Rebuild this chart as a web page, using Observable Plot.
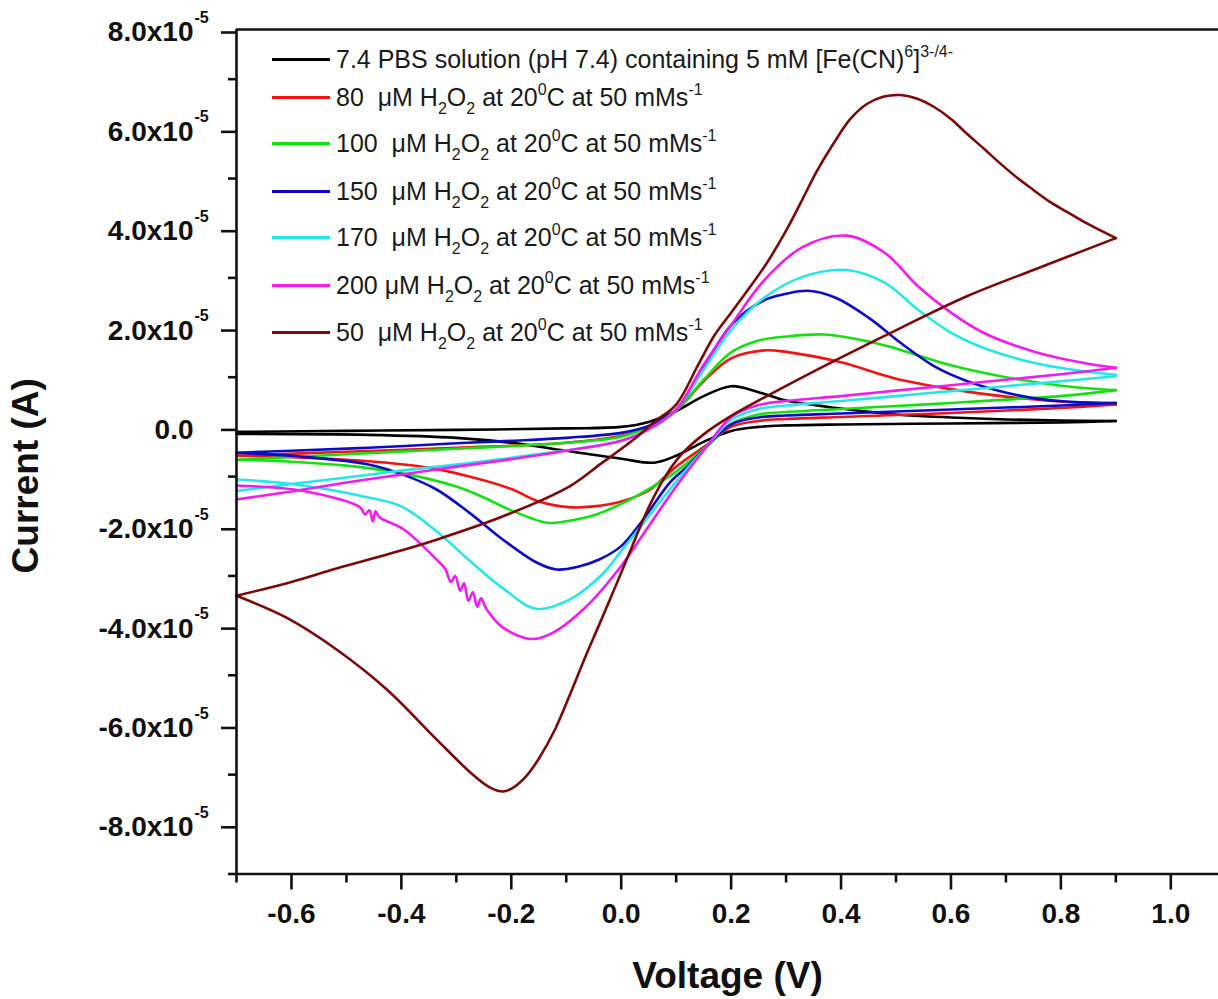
<!DOCTYPE html>
<html>
<head>
<meta charset="utf-8">
<script src="https://cdn.jsdelivr.net/npm/d3@7"></script>
<script src="https://cdn.jsdelivr.net/npm/@observablehq/plot@0.6"></script>
<style>
  html, body { margin: 0; padding: 0; background: #fff; }
  #chart { position: relative; width: 1218px; height: 999px; overflow: hidden; }
  #chart svg { display: block; }
  .legend { position: absolute; left: 0; top: 0; font-family: "Liberation Sans", Arial, sans-serif; font-size: 25px; color: #1a1a1a; }
  .legend .row { position: absolute; left: 272px; height: 40px; display: flex; align-items: center; white-space: pre; }
  .legend .sw { width: 58px; height: 3px; margin-right: 6px; flex: none; }
  .legend sub { font-size: 16px; vertical-align: -8px; line-height: 0; }
  .legend sup { font-size: 16px; vertical-align: 11px; line-height: 0; }
</style>
</head>
<body>
<div id="chart"></div>
<script>
// Cyclic voltammograms: [potential (V), current (x1e-5 A)]
// "Fwd" = anodic sweep (-0.7 V -> 0.9 V), "Rev" = cathodic sweep (0.9 V -> -0.7 V)

const seriesKeys = ["pbs", "h80", "h100", "h150", "h170", "h200", "h50"];

const seriesLabels = [
  "7.4 PBS solution (pH 7.4) containing 5 mM [Fe(CN)<sup>6</sup>]<sup>3-/4-</sup>",
  "80  \u03bcM H<sub>2</sub>O<sub>2</sub> at 20<sup>0</sup>C at 50 mMs<sup>-1</sup>",
  "100  \u03bcM H<sub>2</sub>O<sub>2</sub> at 20<sup>0</sup>C at 50 mMs<sup>-1</sup>",
  "150  \u03bcM H<sub>2</sub>O<sub>2</sub> at 20<sup>0</sup>C at 50 mMs<sup>-1</sup>",
  "170  \u03bcM H<sub>2</sub>O<sub>2</sub> at 20<sup>0</sup>C at 50 mMs<sup>-1</sup>",
  "200 \u03bcM H<sub>2</sub>O<sub>2</sub> at 20<sup>0</sup>C at 50 mMs<sup>-1</sup>",
  "50  \u03bcM H<sub>2</sub>O<sub>2</sub> at 20<sup>0</sup>C at 50 mMs<sup>-1</sup>"
];

const seriesColors = ["#000000", "#f01414", "#14e014", "#0c0cc8", "#28e6e6", "#f01cf0", "#7c0808"];

const pbsFwd = [[-0.7,-0.10],[-0.5,-0.08],[-0.3,-0.06],[-0.1,-0.03],[0.0,0.0],[0.05,0.1],[0.1,0.32],[0.15,0.62],[0.2,0.82],[0.25,0.70],[0.3,0.53],[0.4,0.37],[0.5,0.25],[0.6,0.19],[0.7,0.15],[0.8,0.13],[0.9,0.12]];
const pbsRev = [[0.9,0.12],[0.8,0.09],[0.6,0.07],[0.4,0.05],[0.3,0.03],[0.25,0.0],[0.2,-0.08],[0.15,-0.3],[0.1,-0.58],[0.06,-0.72],[0.0,-0.64],[-0.1,-0.48],[-0.2,-0.32],[-0.3,-0.22],[-0.46,-0.16],[-0.7,-0.14]];

const h80Fwd = [[-0.7,-0.58],[-0.5,-0.50],[-0.3,-0.42],[-0.1,-0.32],[0.0,-0.18],[0.05,0.0],[0.1,0.33],[0.15,0.92],[0.2,1.38],[0.26,1.54],[0.3,1.51],[0.4,1.30],[0.5,0.97],[0.6,0.76],[0.7,0.61],[0.8,0.51],[0.9,0.45]];
const h80Rev = [[0.9,0.45],[0.8,0.38],[0.7,0.33],[0.6,0.28],[0.5,0.24],[0.4,0.2],[0.3,0.16],[0.25,0.12],[0.2,0.0],[0.156,-0.36],[0.1,-0.8],[0.05,-1.28],[0.0,-1.5],[-0.05,-1.6],[-0.09,-1.62],[-0.15,-1.5],[-0.2,-1.25],[-0.28,-0.99],[-0.35,-0.82],[-0.46,-0.69],[-0.6,-0.61],[-0.7,-0.58]];

const h100Fwd = [[-0.7,-0.66],[-0.5,-0.55],[-0.3,-0.44],[-0.1,-0.32],[0.0,-0.2],[0.05,0.0],[0.1,0.33],[0.15,0.95],[0.2,1.5],[0.25,1.74],[0.3,1.82],[0.37,1.86],[0.45,1.72],[0.5,1.58],[0.6,1.24],[0.7,1.0],[0.8,0.83],[0.9,0.74]];
const h100Rev = [[0.9,0.74],[0.8,0.62],[0.7,0.55],[0.6,0.48],[0.5,0.42],[0.4,0.36],[0.3,0.3],[0.25,0.25],[0.2,0.06],[0.156,-0.39],[0.1,-0.9],[0.05,-1.25],[0.0,-1.55],[-0.05,-1.78],[-0.1,-1.9],[-0.135,-1.93],[-0.2,-1.68],[-0.25,-1.42],[-0.3,-1.2],[-0.4,-0.93],[-0.5,-0.78],[-0.6,-0.7],[-0.7,-0.66]];

const h150Fwd = [[-0.7,-0.52],[-0.6,-0.48],[-0.46,-0.42],[-0.3,-0.33],[-0.2,-0.28],[-0.1,-0.22],[0.0,-0.12],[0.05,0.02],[0.1,0.35],[0.15,1.2],[0.2,2.05],[0.26,2.55],[0.3,2.68],[0.34,2.74],[0.39,2.6],[0.45,2.2],[0.51,1.68],[0.57,1.22],[0.63,0.92],[0.69,0.72],[0.75,0.58],[0.81,0.51],[0.9,0.48]];
const h150Rev = [[0.9,0.48],[0.8,0.43],[0.7,0.39],[0.6,0.35],[0.5,0.31],[0.4,0.27],[0.3,0.23],[0.25,0.19],[0.2,0.05],[0.156,-0.39],[0.12,-0.8],[0.09,-1.1],[0.035,-1.94],[0.0,-2.4],[-0.04,-2.67],[-0.08,-2.82],[-0.118,-2.87],[-0.154,-2.73],[-0.215,-2.27],[-0.276,-1.73],[-0.336,-1.26],[-0.397,-0.96],[-0.458,-0.76],[-0.58,-0.6],[-0.7,-0.52]];

const h170Fwd = [[-0.7,-1.29],[-0.6,-1.15],[-0.5,-1.02],[-0.4,-0.88],[-0.3,-0.76],[-0.2,-0.62],[-0.1,-0.47],[0.0,-0.28],[0.05,-0.05],[0.1,0.35],[0.15,1.15],[0.2,1.95],[0.26,2.6],[0.33,3.02],[0.41,3.16],[0.48,2.9],[0.54,2.36],[0.6,1.9],[0.66,1.59],[0.75,1.29],[0.84,1.12],[0.9,1.05]];
const h170Rev = [[0.9,1.02],[0.8,0.92],[0.7,0.82],[0.6,0.72],[0.5,0.62],[0.4,0.52],[0.3,0.43],[0.25,0.36],[0.2,0.14],[0.156,-0.39],[0.1,-1.1],[0.05,-1.8],[0.0,-2.5],[-0.033,-2.95],[-0.093,-3.47],[-0.155,-3.66],[-0.215,-3.25],[-0.275,-2.7],[-0.336,-2.1],[-0.4,-1.6],[-0.46,-1.42],[-0.6,-1.15],[-0.7,-1.06]];

const h200Fwd = [[-0.7,-1.46],[-0.6,-1.3],[-0.5,-1.12],[-0.4,-0.96],[-0.3,-0.8],[-0.2,-0.65],[-0.1,-0.48],[0.0,-0.28],[0.05,-0.05],[0.1,0.35],[0.15,1.25],[0.2,2.05],[0.26,2.95],[0.33,3.62],[0.41,3.85],[0.48,3.5],[0.54,2.83],[0.6,2.3],[0.66,1.89],[0.75,1.52],[0.84,1.29],[0.9,1.19]];
const h200Rev = [[0.9,1.19],[0.8,1.06],[0.7,0.95],[0.6,0.84],[0.5,0.73],[0.4,0.62],[0.3,0.52],[0.25,0.44],[0.2,0.2],[0.156,-0.39],[0.1,-1.2],[0.05,-2.0],[0.0,-2.8],[-0.063,-3.61],[-0.124,-4.14],[-0.163,-4.27],[-0.215,-4.04],[-0.245,-3.67],[-0.255,-3.45],[-0.262,-3.62],[-0.27,-3.33],[-0.278,-3.5],[-0.286,-3.15],[-0.293,-3.3],[-0.302,-3.0],[-0.31,-3.12],[-0.32,-2.86],[-0.336,-2.67],[-0.396,-2.06],[-0.44,-1.82],[-0.447,-1.7],[-0.452,-1.9],[-0.458,-1.68],[-0.466,-1.76],[-0.475,-1.62],[-0.578,-1.29],[-0.7,-1.18]];

const h50Fwd = [[-0.7,-3.40],[-0.6,-3.12],[-0.518,-2.85],[-0.42,-2.55],[-0.336,-2.27],[-0.215,-1.80],[-0.093,-1.19],[-0.038,-0.75],[0.022,-0.26],[0.06,0.1],[0.1,0.45],[0.14,1.25],[0.17,1.85],[0.2,2.3],[0.23,2.75],[0.265,3.3],[0.3,3.95],[0.326,4.5],[0.356,5.15],[0.386,5.7],[0.417,6.2],[0.447,6.5],[0.478,6.65],[0.508,6.68],[0.54,6.6],[0.568,6.45],[0.6,6.2],[0.629,5.9],[0.66,5.6],[0.69,5.3],[0.72,5.02],[0.75,4.77],[0.78,4.53],[0.811,4.33],[0.85,4.08],[0.9,3.80]];
const h50Rev = [[0.9,3.80],[0.811,3.42],[0.75,3.16],[0.629,2.63],[0.508,1.99],[0.386,1.32],[0.265,0.62],[0.2,0.22],[0.15,-0.15],[0.11,-0.55],[0.08,-1.0],[0.05,-1.62],[0.02,-2.4],[-0.01,-3.2],[-0.04,-3.98],[-0.065,-4.62],[-0.09,-5.3],[-0.12,-6.08],[-0.15,-6.68],[-0.172,-7.02],[-0.195,-7.25],[-0.215,-7.34],[-0.24,-7.25],[-0.275,-6.95],[-0.336,-6.29],[-0.427,-5.28],[-0.518,-4.48],[-0.609,-3.84],[-0.7,-3.40]];

const sweeps = {
  pbs: [pbsFwd, pbsRev], h80: [h80Fwd, h80Rev], h100: [h100Fwd, h100Rev],
  h150: [h150Fwd, h150Rev], h170: [h170Fwd, h170Rev], h200: [h200Fwd, h200Rev], h50: [h50Fwd, h50Rev]
};

// Axis tick values
const xMajorTicks = [-0.6, -0.4, -0.2, 0.0, 0.2, 0.4, 0.6, 0.8, 1.0];
const xMinorTicks = [-0.7, -0.5, -0.3, -0.1, 0.1, 0.3, 0.5, 0.7, 0.9];
const yMajorTicks = [-8e-5, -6e-5, -4e-5, -2e-5, 0, 2e-5, 4e-5, 6e-5, 8e-5];
const yMinorTicks = [-9e-5, -7e-5, -5e-5, -3e-5, -1e-5, 1e-5, 3e-5, 5e-5, 7e-5];

// One row per sample; each sweep is its own path so the turning points stay sharp
const rows = [];
for (const key of seriesKeys) {
  const [fwd, rev] = sweeps[key];
  for (const [v, i] of fwd) rows.push({series: key, sweep: key + "-fwd", v, i: i * 1e-5});
  for (const [v, i] of rev) rows.push({series: key, sweep: key + "-rev", v, i: i * 1e-5});
}

const fmtY = (d) => d === 0 ? "0.0" : (d < 0 ? "-" : "") + (Math.abs(d) / 1e-5).toFixed(1) + "x10";
const fmtX = (d) => (Math.abs(d) < 1e-9 ? 0 : d).toFixed(1);

const font = "'Liberation Sans', Arial, sans-serif";

const plot = Plot.plot({
  width: 1218,
  height: 999,
  marginLeft: 236,
  marginRight: 0,
  marginTop: 29,
  marginBottom: 125.5,
  style: {fontFamily: font, background: "#fff", color: "#111"},
  x: {domain: [-0.7, 1.0868]},
  y: {domain: [-9e-5, 8e-5]},
  color: {domain: seriesKeys, range: seriesColors},
  marks: [
    Plot.line(rows, {x: "v", y: "i", z: "sweep", stroke: "series", strokeWidth: 2.6, curve: "catmull-rom"}),
    // frame: left, bottom and top edges
    Plot.ruleX([-0.7], {stroke: "#111", strokeWidth: 2.6}),
    Plot.ruleY([-9e-5], {stroke: "#111", strokeWidth: 2.6}),
    Plot.ruleY([8e-5], {stroke: "#111", strokeWidth: 2.6}),
    // x axis
    Plot.axisX({ticks: xMajorTicks, tickSize: 16, tickPadding: 13.5, tickFormat: fmtX, fontSize: 28, fontWeight: "bold", strokeWidth: 2.6, label: null}),
    Plot.axisX({ticks: xMinorTicks, tickSize: 9, tickFormat: () => "", strokeWidth: 2.6, label: null}),
    // y axis with 10^-5 exponents as raised labels
    Plot.axisY({ticks: yMajorTicks, tickSize: 15, tickPadding: 28, tickFormat: fmtY, fontSize: 28, fontWeight: "bold", dy: 3, strokeWidth: 2.6, label: null}),
    Plot.axisY({ticks: yMajorTicks.filter((d) => d !== 0), tickSize: 0, tickPadding: 42, textAnchor: "start", tickFormat: () => "-5", fontSize: 16, fontWeight: "bold", dy: -11.5, label: null}),
    Plot.axisY({ticks: yMinorTicks, tickSize: 8, tickFormat: () => "", strokeWidth: 2.6, label: null}),
    // axis titles
    Plot.text(["Voltage (V)"], {frameAnchor: "bottom", dy: 102, lineAnchor: "middle", textAnchor: "middle", fontSize: 37, fontWeight: "bold", fill: "#111"}),
    Plot.text(["Current (A)"], {frameAnchor: "left", dx: -210, dy: 24, rotate: -90, lineAnchor: "middle", textAnchor: "middle", fontSize: 37, fontWeight: "bold", fill: "#111"})
  ]
});

const chart = document.getElementById("chart");
chart.appendChild(plot);

// Legend inside the plot area
const legendRowY = [59, 97, 143, 191, 237, 285, 332];
const legend = document.createElement("div");
legend.className = "legend";
seriesKeys.forEach((key, k) => {
  const row = document.createElement("div");
  row.className = "row";
  row.style.top = (legendRowY[k] - 20) + "px";
  const sw = document.createElement("span");
  sw.className = "sw";
  sw.style.background = seriesColors[k];
  const label = document.createElement("span");
  label.innerHTML = seriesLabels[k];
  row.appendChild(sw);
  row.appendChild(label);
  legend.appendChild(row);
});
chart.appendChild(legend);
</script>
</body>
</html>
